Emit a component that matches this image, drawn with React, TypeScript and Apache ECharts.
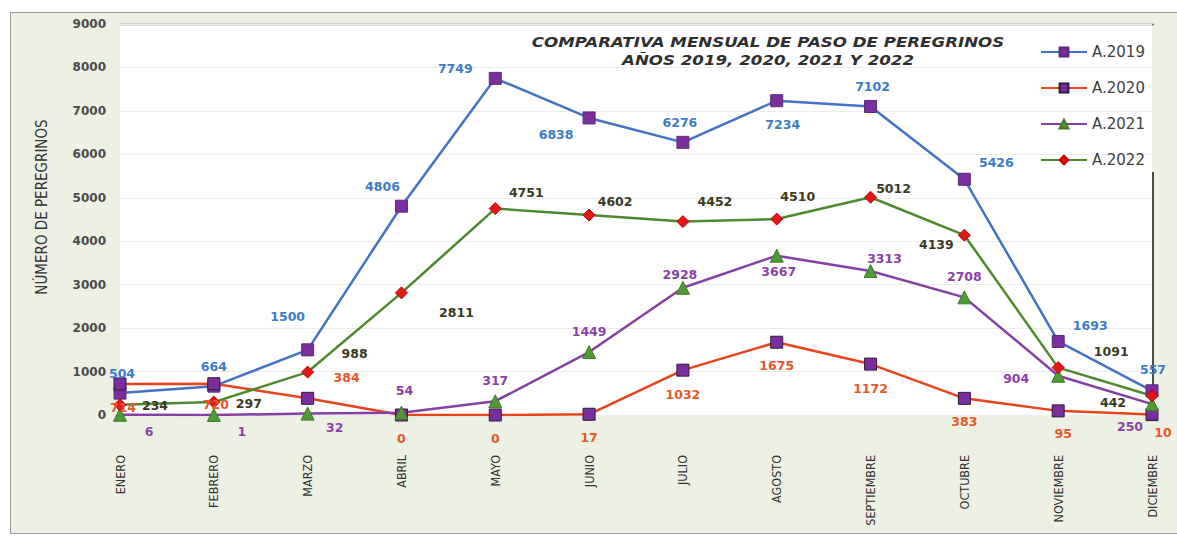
import { useEffect, useRef } from "react";
import * as echarts from "echarts";

const MONTHS = ["ENERO", "FEBRERO", "MARZO", "ABRIL", "MAYO", "JUNIO", "JULIO", "AGOSTO", "SEPTIEMBRE", "OCTUBRE", "NOVIEMBRE", "DICIEMBRE"];
const A2019 = [504, 664, 1500, 4806, 7749, 6838, 6276, 7234, 7102, 5426, 1693, 557];
const A2020 = [714, 720, 384, 0, 0, 17, 1032, 1675, 1172, 383, 95, 10];
const A2021 = [6, 1, 32, 54, 317, 1449, 2928, 3667, 3313, 2708, 904, 250];
const A2022 = [234, 297, 988, 2811, 4751, 4602, 4452, 4510, 5012, 4139, 1091, 442];
const SERIES_NAMES = ["A.2019", "A.2020", "A.2021", "A.2022"];
const Y_MIN = 0;
const Y_MAX = 9000;
const Y_STEP = 1000;
const TITLE_1 = "COMPARATIVA MENSUAL DE PASO DE PEREGRINOS";
const TITLE_2 = "AÑOS 2019, 2020, 2021 Y 2022";
const Y_NAME = "NÚMERO DE PEREGRINOS";

// label placement (layout only)
const OFF_2019 = [[2, -20], [0, -20], [-20, -33], [-19, -20], [-40, -10], [-33, 17], [-3, -20], [6, 24], [2, -20], [32, -17], [32, -16], [1, -21]];
const OFF_2020 = [[3, 24], [2, 21], [39, -21], [0, 23], [0, 23], [0, 23], [0, 24], [0, 23], [0, 24], [0, 23], [5, 23], [11, 18]];
const OFF_2021 = [[29, 17], [28, 17], [27, 14], [3, -22], [0, -21], [0, -21], [-3, -13], [2, 16], [14, -13], [0, -21], [-42, 3], [-22, 22]];
const OFF_2022 = [[35, 1], [35, 1], [47, -19], [55, 20], [31, -16], [26, -14], [32, -20], [21, -23], [23, -9], [-28, 9], [53, -16], [-39, 7]];

const NARROW = "'Liberation Sans Narrow', 'DejaVu Sans Condensed', 'Liberation Sans', sans-serif";
const DV = "'DejaVu Sans', sans-serif";

function mkSeries(name: string, values: number[], offs: number[][], lineColor: string, symbol: string, symColor: string, symBorder: string, labelColor: string, size: number) {
  return {
    type: "line",
    name,
    data: values.map((v, i) => ({ value: v, label: { offset: offs[i] } })),
    symbol,
    symbolSize: size,
    lineStyle: { color: lineColor, width: 2.5 },
    itemStyle: { color: symColor, borderColor: symBorder, borderWidth: 1 },
    label: {
      show: true,
      position: "inside",
      color: labelColor,
      fontFamily: DV,
      fontWeight: "bold",
      fontSize: 12.5,
    },
    emphasis: { disabled: true },
  };
}

export default function App() {
  const ref = useRef<HTMLDivElement>(null);
  useEffect(() => {
    if (!ref.current) return;
    const chart = echarts.init(ref.current, null, { renderer: "svg" });
    chart.setOption({
      animation: false,
      grid: { left: 120, right: 25, top: 24, bottom: 121, show: true, backgroundColor: "#ffffff", borderWidth: 0 },
      legend: {
        orient: "vertical",
        left: 1035,
        top: 39,
        itemWidth: 46,
        itemHeight: 11,
        itemGap: 20,
        selectedMode: false,
        data: SERIES_NAMES,
        textStyle: { fontFamily: DV, fontSize: 15, color: "#404040", lineHeight: 16 },
      },
      xAxis: {
        type: "category",
        data: MONTHS,
        boundaryGap: false,
        axisLine: { show: false },
        axisTick: { show: false },
        splitLine: { show: false },
        axisLabel: { rotate: 90, margin: 40, fontFamily: NARROW, fontSize: 12.5, color: "#333" },
      },
      yAxis: {
        type: "value",
        min: Y_MIN,
        max: Y_MAX,
        interval: Y_STEP,
        axisLine: { show: false },
        axisTick: { show: false },
        splitLine: { lineStyle: { color: "#ececec", width: 1 } },
        axisLabel: { margin: 14, fontFamily: DV, fontWeight: "bold", fontSize: 12, color: "#4a4a4a", formatter: (v: number) => String(v) },
      },
      graphic: [
        {
          type: "text",
          x: 768,
          y: 42,
          scaleX: 1.19,
          style: { text: TITLE_1, fontFamily: DV, fontWeight: "bold", fontStyle: "italic", fontSize: 14, fill: "#2f2f2f", align: "center", verticalAlign: "middle" },
        },
        {
          type: "text",
          x: 768,
          y: 60,
          scaleX: 1.19,
          style: { text: TITLE_2, fontFamily: DV, fontWeight: "bold", fontStyle: "italic", fontSize: 14, fill: "#2f2f2f", align: "center", verticalAlign: "middle" },
        },
        {
          type: "text",
          x: 42,
          y: 207,
          rotation: Math.PI / 2,
          style: { text: Y_NAME, fontFamily: NARROW, fontSize: 15, fill: "#333", align: "center", verticalAlign: "middle" },
        },
        { type: "line", shape: { x1: 120, y1: 24.5, x2: 1154, y2: 24.5 }, style: { stroke: "#707070", lineWidth: 1.5 } },
        { type: "line", shape: { x1: 1153, y1: 172, x2: 1153, y2: 400 }, style: { stroke: "#4a4a4a", lineWidth: 2 } },
      ],
      series: [
        mkSeries(SERIES_NAMES[0], A2019, OFF_2019, "#4472c4", "rect", "#7b2f9e", "#5a2a7a", "#3d7cc9", 12),
        mkSeries(SERIES_NAMES[1], A2020, OFF_2020, "#e8441c", "rect", "#7b2f9e", "#2e1a3a", "#e8562a", 12),
        mkSeries(SERIES_NAMES[2], A2021, OFF_2021, "#8440a4", "triangle", "#4f9a34", "#3f7a2a", "#8b3fa8", 13),
        mkSeries(SERIES_NAMES[3], A2022, OFF_2022, "#4e8a2c", "diamond", "#e01818", "#c00000", "#3a3a24", 12),
      ],
    });
    return () => chart.dispose();
  }, []);
  return (
    <div style={{ position: "absolute", left: 0, top: 0, width: 1177, height: 536, background: "#ffffff", overflow: "hidden" }}>
      <div style={{ position: "absolute", left: 10, top: 12, width: 1180, height: 520, background: "#edf1e3", border: "1px solid #9a9a9a" }} />
      <div ref={ref} style={{ position: "absolute", left: 0, top: 0, width: 1177, height: 536 }} />
    </div>
  );
}
